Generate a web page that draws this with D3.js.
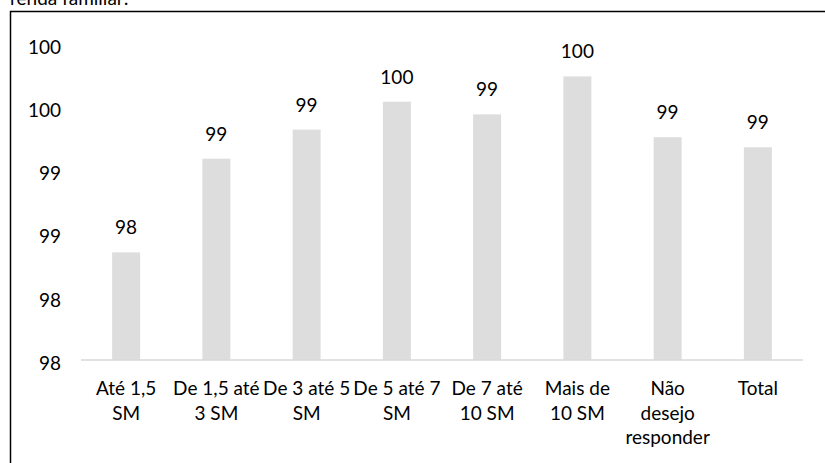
<!DOCTYPE html>
<html>
<head>
<meta charset="utf-8">
<script src="https://cdn.jsdelivr.net/npm/d3@7"></script>
<style>
  html, body { margin: 0; padding: 0; background: #fff; }
  svg { display: block; }
  text { font-family: Lato, "Open Sans", sans-serif; fill: #000; }
</style>
</head>
<body>
<svg id="chart" width="825" height="463"></svg>
<script>
const categories = [
  ["Até 1,5", "SM"],
  ["De 1,5 até", "3 SM"],
  ["De 3 até 5", "SM"],
  ["De 5 até 7", "SM"],
  ["De 7 até", "10 SM"],
  ["Mais de", "10 SM"],
  ["Não", "desejo", "responder"],
  ["Total"]
];
const values = [98.35, 99.09, 99.32, 99.54, 99.44, 99.74, 99.26, 99.18];
const valueLabels = ["98", "99", "99", "100", "99", "100", "99", "99"];
const yTickValues = [97.5, 98.0, 98.5, 99.0, 99.5, 100.0];
const yTickLabels = ["98", "98", "99", "99", "100", "100"];
const titleText = "renda familiar:";

const svg = d3.select("#chart");
const W = 825, H = 463;
const plot = { left: 81, right: 803, top: 43.5, bottom: 360 };
const fontSize = 19;

// chart area border (extends beyond the picture on right and bottom)
svg.append("rect")
  .attr("x", 10.5).attr("y", 11.5)
  .attr("width", 900).attr("height", 600)
  .attr("fill", "none").attr("stroke", "#000").attr("stroke-width", 1.5);

// clipped title above
svg.append("text")
  .attr("x", 10).attr("y", 5)
  .style("font-size", fontSize + "px")
  .text(titleText);

const x = d3.scaleBand()
  .domain(d3.range(categories.length))
  .range([plot.left, plot.right])
  .paddingInner(0.69).paddingOuter(0.345);

const y = d3.scaleLinear()
  .domain([yTickValues[0], yTickValues[yTickValues.length - 1]])
  .range([plot.bottom, plot.top]);

// bars
svg.append("g").selectAll("rect")
  .data(values)
  .join("rect")
  .attr("x", (d, i) => x(i))
  .attr("width", x.bandwidth())
  .attr("y", d => y(d))
  .attr("height", d => y(yTickValues[0]) - y(d))
  .attr("fill", "#dddddd");

// data labels
svg.append("g").selectAll("text")
  .data(values)
  .join("text")
  .attr("x", (d, i) => x(i) + x.bandwidth() / 2)
  .attr("y", d => y(d) - 18)
  .attr("text-anchor", "middle")
  .style("font-size", fontSize + "px")
  .text((d, i) => valueLabels[i]);

// y axis
const yAxis = d3.axisLeft(y)
  .tickValues(yTickValues)
  .tickFormat((d, i) => yTickLabels[i])
  .tickSize(0).tickPadding(20);
const gy = svg.append("g")
  .attr("transform", `translate(${plot.left},0)`)
  .call(yAxis);
gy.select(".domain").remove();
gy.selectAll("text")
  .attr("dy", "0.5em")
  .style("font-size", fontSize + "px")
  .style("font-family", "Lato, 'Open Sans', sans-serif")
  .attr("fill", "#000");

// x axis
const xAxis = d3.axisBottom(x).tickSize(0).tickFormat("");
const gx = svg.append("g")
  .attr("transform", `translate(0,${plot.bottom})`)
  .call(xAxis);
gx.select(".domain")
  .attr("stroke", "#d9d9d9").attr("stroke-width", 1.5)
  .attr("d", `M${plot.left},0H${plot.right}`);
gx.selectAll(".tick text").remove();
gx.selectAll(".tick").each(function(d) {
  const t = d3.select(this).append("text")
    .attr("text-anchor", "middle")
    .attr("y", 35)
    .style("font-size", fontSize + "px")
    .attr("fill", "#000");
  categories[d].forEach((line, j) => {
    t.append("tspan").attr("x", 0).attr("dy", j === 0 ? 0 : 24.5).text(line);
  });
});
</script>
</body>
</html>
